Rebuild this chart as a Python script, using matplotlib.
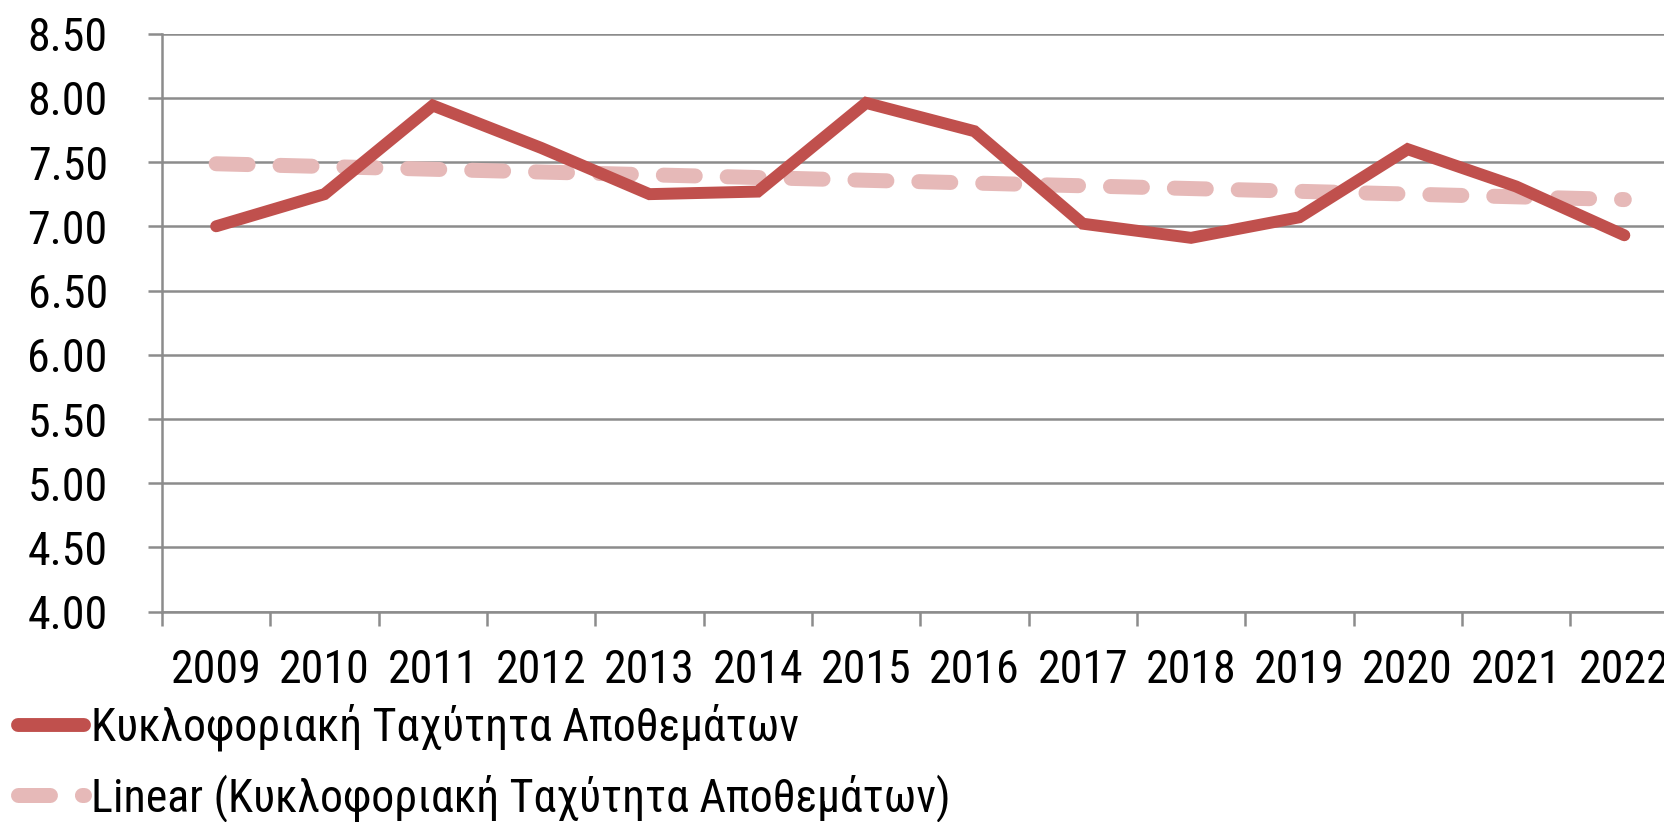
import matplotlib
matplotlib.use("Agg")
import matplotlib.pyplot as plt
from matplotlib import font_manager
from matplotlib.ft2font import FT2Font
import numpy as np

years = ["2009", "2010", "2011", "2012", "2013", "2014", "2015",
         "2016", "2017", "2018", "2019", "2020", "2021", "2022"]
turnover = [7.00, 7.25, 7.94, 7.61, 7.25, 7.27, 7.96,
            7.74, 7.02, 6.91, 7.07, 7.60, 7.31, 6.93]
yticks = [4.00, 4.50, 5.00, 5.50, 6.00, 6.50, 7.00, 7.50, 8.00, 8.50]
series_name = "Κυκλοφοριακή Ταχύτητα Αποθεμάτων"

# pick a narrow font that has greek glyphs, like Arial Narrow in the original
candidates = ['Liberation Sans Narrow', 'Arial Narrow', 'Roboto Condensed',
              'Fira Sans Condensed', 'IBM Plex Sans Condensed', 'Open Sans Condensed',
              'Archivo Narrow', 'Liberation Sans']
chosen = 'DejaVu Sans'
for fam in candidates:
    try:
        path = font_manager.findfont(fam, fallback_to_default=False)
        if FT2Font(path).get_char_index(ord('Κ')) != 0:
            chosen = fam
            break
    except Exception:
        continue
plt.rcParams['font.family'] = [chosen, 'DejaVu Sans']

fig = plt.figure(figsize=(16.65, 8.22), dpi=100)
ax = fig.add_axes([0.0973, 0.2558, 0.9108, 0.7034])

x = np.arange(len(years))
# excel style linear trendline
slope, icpt = np.polyfit(x, turnover, 1)
trend = slope * x + icpt

ax.plot(x, turnover, color='#C0504D', lw=8.6, solid_joinstyle='miter',
        solid_capstyle='round', label=series_name, zorder=3)
ax.plot(x, trend, color='#E6B9B8', lw=10.8, dash_capstyle='round',
        dashes=(2.13, 2.13), label="Linear (" + series_name + ")", zorder=2)

ax.set_xlim(-0.5, len(years) - 0.5)
ax.set_ylim(4.0, 8.5)
ax.set_yticks(yticks)
ax.set_yticklabels([f"{v:.2f}" for v in yticks])
ax.set_xticks(x)
ax.set_xticklabels(years)
ax.set_xticks(np.arange(-0.5, len(years)), minor=True)

ax.grid(axis='y', color='#8C8C8C', lw=1.8)
ax.set_axisbelow(True)
for s in ['top', 'right']:
    ax.spines[s].set_visible(False)
for s in ['left', 'bottom']:
    ax.spines[s].set_color('#8C8C8C')
    ax.spines[s].set_linewidth(1.8)

ax.tick_params(axis='y', length=10, width=1.8, color='#8C8C8C', pad=29, labelsize=33)
ax.tick_params(axis='x', which='major', length=0, pad=26, labelsize=33)
ax.tick_params(axis='x', which='minor', length=10, width=1.8, color='#8C8C8C')

leg = fig.legend(loc='center left', bbox_to_anchor=(0.0108, 0.0718), frameon=False,
                 fontsize=33, handlelength=1.44, handletextpad=0.15, borderpad=0,
                 borderaxespad=0, labelspacing=0.5)
leg.get_lines()[0].set_linewidth(10)

fig.savefig('out.png', dpi=100)
